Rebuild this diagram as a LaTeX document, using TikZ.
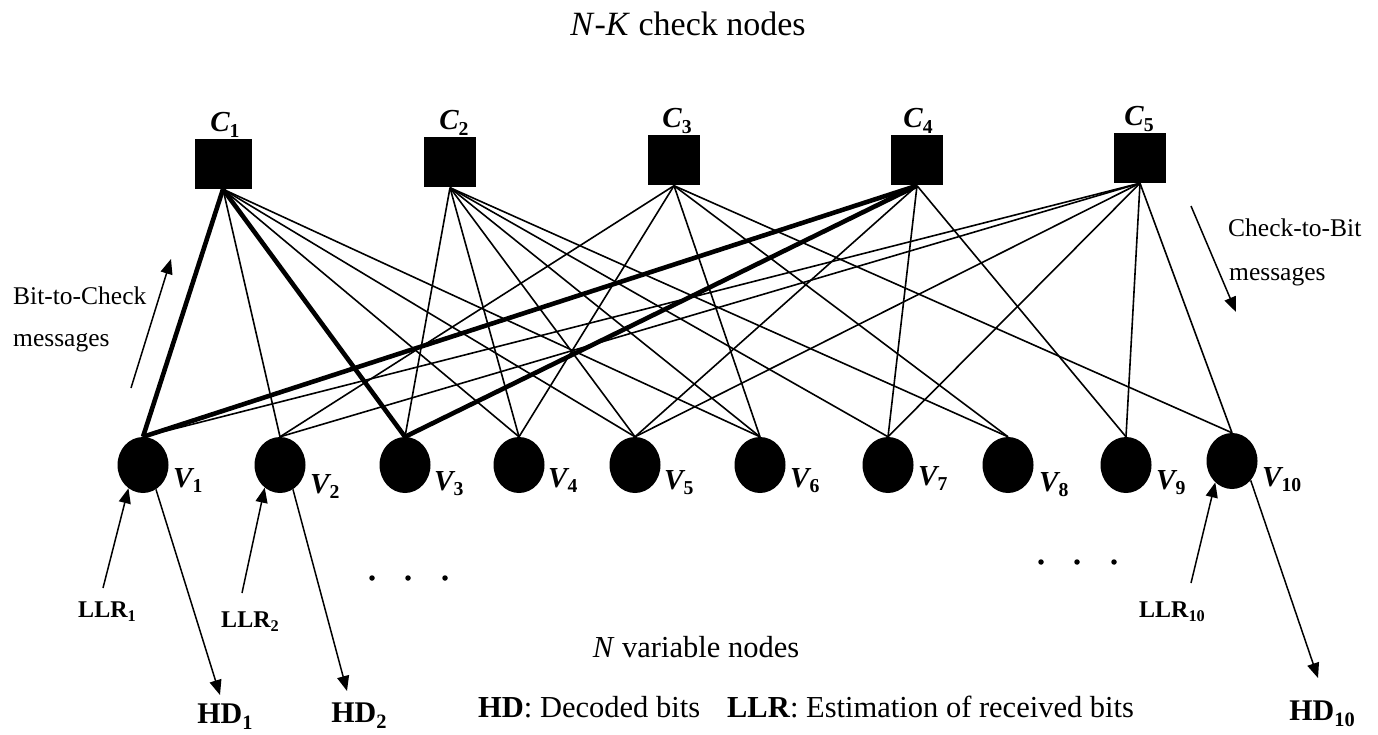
\documentclass[tikz,border=0pt]{standalone}
\usepackage{fontspec}
\setmainfont{Liberation Serif}
\usepackage{graphicx}
\usetikzlibrary{shapes.geometric,arrows.meta}
\newcommand\sbx[1]{\raisebox{-0.2em}{\scalebox{0.68}{#1}}}
\newcommand\vl[1]{{\bfseries\itshape V}\sbx{\bfseries #1}}
\newcommand\cl[1]{{\bfseries\itshape C}\sbx{\bfseries #1}}
\tikzset{
  cnode/.style={rectangle, fill=black, minimum width=52pt, minimum height=50pt, inner sep=0pt},
  vnode/.style={ellipse, fill=black, minimum width=51pt, minimum height=56pt, inner sep=0pt},
  edge/.style={line width=1.6pt},
  hedge/.style={line width=4.6pt},
  arr/.style={line width=1.5pt, -{Triangle[length=15pt,width=12pt]}},
  txt/.style={inner sep=0pt, font=\fontsize{30.5}{36}\selectfont},
  small/.style={inner sep=0pt, anchor=base west, font=\fontsize{25.5}{30}\selectfont},
  vlab/.style={inner sep=0pt, anchor=base west, font=\fontsize{29}{34}\selectfont},
  clab/.style={inner sep=0pt, anchor=base, font=\fontsize{29}{34}\selectfont},
  llr/.style={inner sep=0pt, anchor=base, font=\fontsize{24}{28}\selectfont\bfseries},
  hd/.style={inner sep=0pt, anchor=base, font=\fontsize{30}{34}\selectfont\bfseries},
  dot/.style={circle, fill=black, minimum size=5.5pt, inner sep=0pt}
}
\begin{document}
\begin{tikzpicture}[x=1pt, y=-1pt]
\useasboundingbox (0,0) rectangle (1378,735);
% check nodes
\node[cnode, minimum width=57pt] (C1) at (223,164) {};
\node[cnode] (C2) at (450,162.5) {};
\node[cnode] (C3) at (674,160.5) {};
\node[cnode] (C4) at (917,160.5) {};
\node[cnode] (C5) at (1140,158) {};
\node[clab] (lc1) at (225,132) {\cl{1}};
\node[clab] (lc2) at (454,130) {\cl{2}};
\node[clab] (lc3) at (677,128) {\cl{3}};
\node[clab] (lc4) at (918,128) {\cl{4}};
\node[clab] (lc5) at (1139,126) {\cl{5}};
% variable nodes
\node[vnode] (V1) at (143,465) {};
\node[vnode] (V2) at (280,465) {};
\node[vnode] (V3) at (405,465) {};
\node[vnode] (V4) at (519,465) {};
\node[vnode] (V5) at (635,465) {};
\node[vnode] (V6) at (760,465) {};
\node[vnode] (V7) at (888,465) {};
\node[vnode] (V8) at (1008,465) {};
\node[vnode] (V9) at (1126,465) {};
\node[vnode] (V10) at (1232,461) {};
\node[vlab] (lv1) at (173,487) {\vl{1}};
\node[vlab] (lv2) at (310,493) {\vl{2}};
\node[vlab] (lv3) at (434,490) {\vl{3}};
\node[vlab] (lv4) at (548,487) {\vl{4}};
\node[vlab] (lv5) at (664,489) {\vl{5}};
\node[vlab] (lv6) at (790,487) {\vl{6}};
\node[vlab] (lv7) at (918,485) {\vl{7}};
\node[vlab] (lv8) at (1039,491) {\vl{8}};
\node[vlab] (lv9) at (1156,489) {\vl{9}};
\node[vlab] (lv10) at (1262,486) {\vl{10}};
% edges
\draw[hedge] (C1.south) -- (V1.north);
\draw[edge] (C1.south) -- (V2.north);
\draw[hedge] (C1.south) -- (V3.north);
\draw[edge] (C1.south) -- (V4.north);
\draw[edge] (C1.south) -- (V5.north);
\draw[edge] (C1.south) -- (V6.north);
\draw[edge] (C2.south) -- (V3.north);
\draw[edge] (C2.south) -- (V4.north);
\draw[edge] (C2.south) -- (V5.north);
\draw[edge] (C2.south) -- (V6.north);
\draw[edge] (C2.south) -- (V7.north);
\draw[edge] (C2.south) -- (V8.north);
\draw[edge] (C3.south) -- (V2.north);
\draw[edge] (C3.south) -- (V4.north);
\draw[edge] (C3.south) -- (V6.north);
\draw[edge] (C3.south) -- (V8.north);
\draw[edge] (C3.south) -- (V10.north);
\draw[hedge] (C4.south) -- (V1.north);
\draw[hedge] (C4.south) -- (V3.north);
\draw[edge] (C4.south) -- (V5.north);
\draw[edge] (C4.south) -- (V7.north);
\draw[edge] (C4.south) -- (V9.north);
\draw[edge] (C5.south) -- (V1.north);
\draw[edge] (C5.south) -- (V2.north);
\draw[edge] (C5.south) -- (V5.north);
\draw[edge] (C5.south) -- (V7.north);
\draw[edge] (C5.south) -- (V9.north);
\draw[edge] (C5.south) -- (V10.north);
% texts
\node[txt, anchor=base, font=\fontsize{34}{40}\selectfont] (title) at (688,36) {\textit{N}-\textit{K} check nodes};
\node[txt, anchor=base] (nvar) at (696,657) {\textit{N} variable nodes};
\node[txt, anchor=base west] (legend) at (478,717) {\textbf{HD}: Decoded bits\hspace*{27pt}\textbf{LLR}: Estimation of received bits};
\node[small] (b2c1) at (13,304) {Bit-to-Check};
\node[small] (b2c2) at (13,346) {messages};
\node[small] (c2b1) at (1228,237) {Check-to-Bit};
\node[small] (c2b2) at (1229,280) {messages};
% message arrows
\coordinate (ba) at (131,388);
\coordinate (bb) at (171,259);
\draw[arr] (ba) -- (bb);
\coordinate (ca) at (1191,206);
\coordinate (cb) at (1236,312);
\draw[arr] (ca) -- (cb);
% LLR and HD
\node[llr] (L1) at (107,617) {LLR\sbx{1}};
\node[llr] (L2) at (250,627) {LLR\sbx{2}};
\node[llr] (L10) at (1172,617) {LLR\sbx{10}};
\node[hd] (H1) at (225,723) {HD\sbx{1}};
\node[hd] (H2) at (359,722) {HD\sbx{2}};
\node[hd] (H10) at (1322,720) {HD\sbx{10}};
\coordinate (l1t) at (103,588);
\coordinate (l2t) at (242,593);
\coordinate (l10t) at (1191,583);
\coordinate (h1t) at (220,695);
\coordinate (h2t) at (347,691);
\coordinate (h10t) at (1318,678);
\draw[arr] (l1t) -- (V1.-122);
\draw[arr] (V1.-62) -- (h1t);
\draw[arr] (l2t) -- (V2.-124);
\draw[arr] (V2.-62) -- (h2t);
\draw[arr] (l10t) -- (V10.-128);
\draw[arr] (V10.-46) -- (h10t);
% dots
\node[dot] (d1) at (372,578) {};
\node[dot] (d2) at (408,578) {};
\node[dot] (d3) at (445,578) {};
\node[dot] (d4) at (1041,562) {};
\node[dot] (d5) at (1077,562) {};
\node[dot] (d6) at (1114,562) {};
\end{tikzpicture}
\end{document}
